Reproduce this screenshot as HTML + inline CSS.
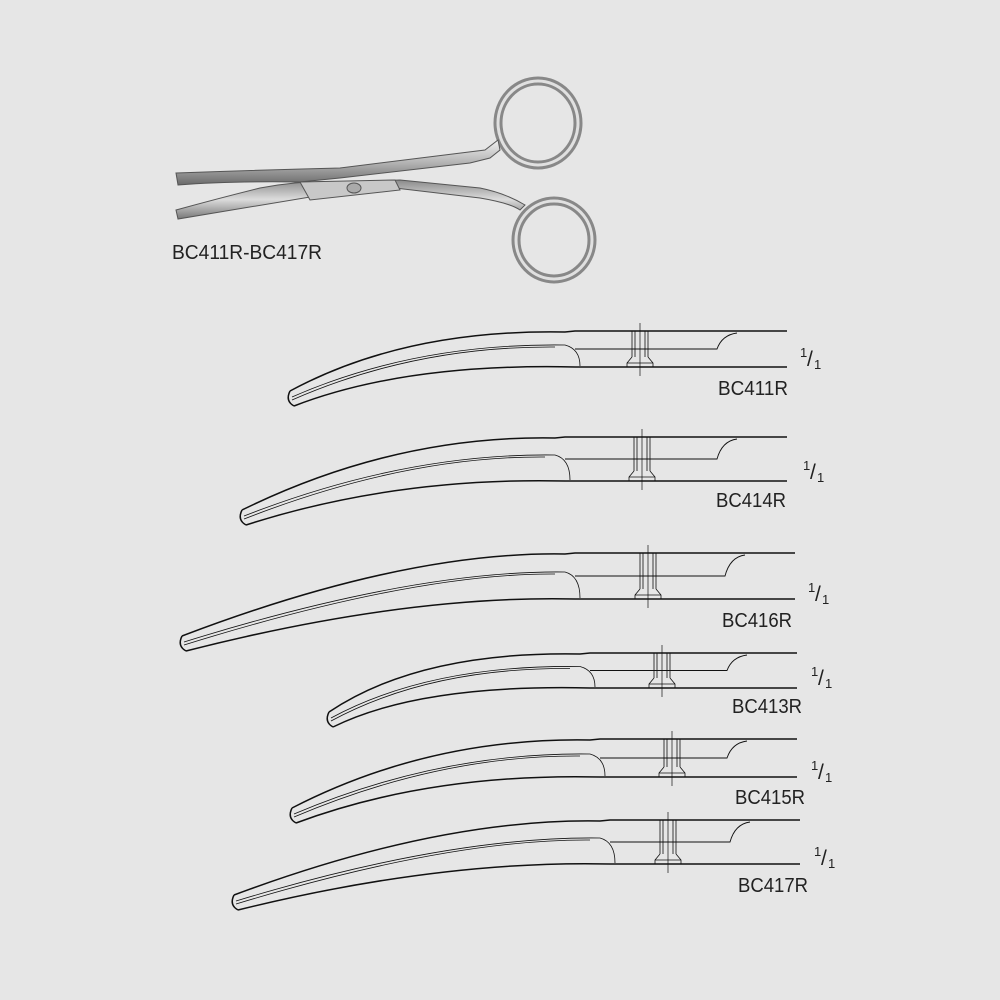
<!DOCTYPE html>
<html><head><style>
html,body{margin:0;padding:0;background:#e6e6e6;}
svg{display:block}
text{font-family:"Liberation Sans",sans-serif;fill:#222}
</style></head><body>
<svg id="s" width="1000" height="1000" viewBox="0 0 1000 1000" xmlns="http://www.w3.org/2000/svg">
<defs>
<linearGradient id="m" x1="0" y1="0" x2="0" y2="1">
<stop offset="0" stop-color="#f0f0f0"/><stop offset="0.5" stop-color="#b4b4b4"/><stop offset="1" stop-color="#6a6a6a"/>
</linearGradient>
<linearGradient id="m2" x1="0" y1="0" x2="0" y2="1">
<stop offset="0" stop-color="#8a8a8a"/><stop offset="0.5" stop-color="#dcdcdc"/><stop offset="1" stop-color="#777"/>
</linearGradient>
</defs>
<rect width="1000" height="1000" fill="#e6e6e6"/>
<g stroke="#555" stroke-width="1">
<ellipse cx="538" cy="123" rx="40" ry="42" fill="none" stroke="#888" stroke-width="9"/>
<ellipse cx="538" cy="123" rx="40" ry="42" fill="none" stroke="#e0e0e0" stroke-width="3"/>
<ellipse cx="554" cy="240" rx="38" ry="39" fill="none" stroke="#888" stroke-width="9"/>
<ellipse cx="554" cy="240" rx="38" ry="39" fill="none" stroke="#e0e0e0" stroke-width="3"/>
<path d="M176,173 L178,185 Q230,181 300,182 L340,178 L470,163 L490,158 L500,150 L498,140 L485,150 L340,168 Q260,170 176,173 Z" fill="url(#m)"/>
<path d="M176,210 L178,219 Q260,205 340,192 L395,188 L480,198 Q510,203 520,210 L525,205 Q505,193 480,188 L400,180 L340,182 Q300,180 260,188 Q220,198 176,210 Z" fill="url(#m2)"/>
<path d="M300,182 L395,180 L400,190 L310,200 Z" fill="#c8c8c8"/>
<ellipse cx="354" cy="188" rx="7" ry="5" fill="#aaa"/>
</g>
<text x="172" y="259" font-size="20" textLength="150" lengthAdjust="spacingAndGlyphs">BC411R-BC417R</text>
<g id="blades" fill="none" stroke="#111" stroke-width="1.5"></g>
<g id="labels"></g>
</svg>
<script>
var B=[
[288,403,331,367,787,575,640,800,357,718,395,'BC411R'],
[240,522,437,481,787,565,642,803,470,716,507,'BC414R'],
[180,648,553,599,795,575,648,808,592,722,627,'BC416R'],
[327,724,653,688,797,590,662,811,676,732,713,'BC413R'],
[290,820,739,777,797,600,672,811,770,735,804,'BC415R'],
[232,907,820,864,800,610,668,814,856,738,892,'BC417R']];
var g=document.getElementById('blades'),L=document.getElementById('labels'),h='',t='';
B.forEach(function(b){
var tx=b[0],ty=b[1],yt=b[2],yb=b[3],xe=b[4],xs=b[5],xc=b[6],w=yb-yt;
var mid=yt+w*0.5;
h+='<path d="M'+(tx+2)+','+(ty-12)+' Q'+(xs-170)+','+(yt-2)+' '+(xs-10)+','+(yt+1)+' L'+xs+','+yt+' L'+xe+','+yt+'"/>';
h+='<path d="M'+(tx+6)+','+(ty+3)+' Q'+(xs-170)+','+(yb-4)+' '+xs+','+yb+' L'+xe+','+yb+'"/>';
h+='<path d="M'+(tx+2)+','+(ty-12)+' Q'+(tx-3)+','+(ty-2)+' '+(tx+6)+','+(ty+3)+'"/>';
h+='<path stroke-width="0.8" d="M'+(tx+4)+','+(ty-6)+' Q'+(xs-160)+','+(mid-6)+' '+(xs-10)+','+(mid-4)+' Q'+(xs+5)+','+(mid)+' '+(xs+5)+','+(yb-1)+'"/>';
h+='<path stroke-width="0.8" d="M'+(tx+4)+','+(ty-3)+' Q'+(xs-160)+','+(mid-3)+' '+(xs-20)+','+(mid-2)+'"/>';
h+='<path stroke-width="0.9" d="M'+(xs)+','+(mid)+' L'+(xe-70)+','+mid+' Q'+(xe-65)+','+(yt+4)+' '+(xe-50)+','+(yt+2)+'"/>';
h+='<path stroke-width="0.8" d="M'+(xc-8)+','+yt+' V'+(yb-10)+' M'+(xc+8)+','+yt+' V'+(yb-10)+' M'+(xc-5)+','+yt+' V'+(yb-10)+' M'+(xc+5)+','+yt+' V'+(yb-10)+' M'+(xc-8)+','+(yb-10)+' L'+(xc-13)+','+(yb-4)+' V'+yb+' M'+(xc+8)+','+(yb-10)+' L'+(xc+13)+','+(yb-4)+' V'+yb+' M'+(xc-13)+','+(yb-4)+' H'+(xc+13)+'"/>';
h+='<path stroke-width="0.7" d="M'+xc+','+(yt-8)+' V'+(yb+9)+'"/>';
t+='<text x="'+b[7]+'" y="'+b[8]+'" font-size="13">1</text><text x="'+(b[7]+7)+'" y="'+(b[8]+9)+'" font-size="21">/</text><text x="'+(b[7]+14)+'" y="'+(b[8]+12)+'" font-size="13">1</text>';
t+='<text x="'+b[9]+'" y="'+b[10]+'" font-size="20" textLength="70" lengthAdjust="spacingAndGlyphs">'+b[11]+'</text>';
});
g.innerHTML=h;L.innerHTML=t;
</script>
</body></html>
